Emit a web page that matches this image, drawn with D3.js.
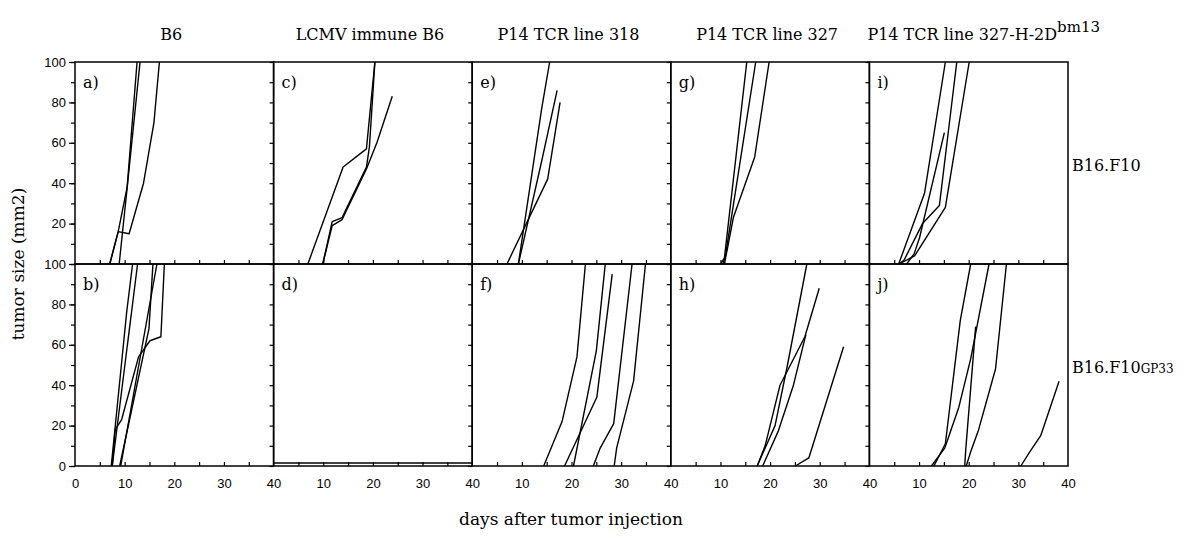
<!DOCTYPE html>
<html>
<head>
<meta charset="utf-8">
<script src="https://cdn.jsdelivr.net/npm/d3@7"></script>
<style>
  body { margin: 0; background: #fff; }
  svg { font-family: "DejaVu Serif", "Liberation Serif", serif; }
  .tick text { font-size: 13px; fill: #000; }
  .tick line { stroke: #000; stroke-width: 1.2; }
  .domain { display: none; }
  .curve { fill: none; stroke: #000; stroke-width: 1.4; stroke-linejoin: round; }
  .border { fill: none; stroke: #000; stroke-width: 1.5; }
</style>
</head>
<body>
<svg id="grafico"></svg>
<script>
// column titles (treatment of the recipients) and row labels (tumour line)
const colunas = ['B6', 'LCMV immune B6', 'P14 TCR line 318', 'P14 TCR line 327', 'P14 TCR line 327-H-2D'];
const sobrescrito = ['', '', '', '', 'bm13'];
const linhas = ['B16.F10', 'B16.F10'];
const indice = ['', 'GP33'];
const letras = [['a)', 'c)', 'e)', 'g)', 'i)'], ['b)', 'd)', 'f)', 'h)', 'j)']];

const ticksDias = [0, 10, 20, 30, 40];
const ticksTamanho = [0, 20, 40, 60, 80, 100];

// tumour growth curves, [day, size mm2]
const painelA = [
  [[7, 0], [8.7, 16], [10.5, 38], [12.5, 100]],
  [[7, 0], [8.7, 16], [10.9, 15], [13.8, 40], [15.9, 70], [17, 100]],
  [[8.9, 0], [10.6, 40], [13.1, 100]]
];
const painelB = [
  [[7.3, 0], [10.4, 76], [11.6, 100]],
  [[7.5, 0], [12.6, 100]],
  [[7.5, 0], [8.1, 18], [9.4, 23], [12.8, 54], [15.1, 62], [17.3, 64], [18, 100]],
  [[9, 0], [14.9, 68], [15.7, 100]],
  [[9.2, 0], [16.5, 100]]
];
const painelC = [
  [[6.9, 0], [14, 48], [18.7, 57], [20.4, 100]],
  [[9.9, 0], [11.8, 21], [13.8, 23], [18.7, 48], [19.3, 58], [20.4, 100]],
  [[9.9, 0], [11.8, 19], [13.8, 22], [18.7, 47], [20.8, 60], [23.9, 83]]
];
const painelD = [
  [[0, 1.5], [40, 1.5]]
];
const painelE = [
  [[7, 0], [15.2, 42], [17.7, 80]],
  [[9.3, 0], [14, 77], [15.6, 100]],
  [[9.3, 0], [14, 51], [17.1, 86]]
];
const painelF = [
  [[14.4, 0], [18.1, 22], [21.1, 54], [22.8, 100]],
  [[20.4, 0], [25, 57], [26.8, 100]],
  [[18.6, 0], [25.1, 34], [28.2, 95]],
  [[24.4, 0], [25.8, 9], [28.5, 21], [32.2, 100]],
  [[28.6, 0], [29.1, 9], [32.5, 42], [34.9, 100]]
];
const painelG = [
  [[10, 0], [10.8, 3], [15.3, 100]],
  [[10.5, 0], [11, 4], [17.1, 100]],
  [[10.8, 0], [11.2, 5], [12.6, 23], [16.9, 53], [19.8, 100]]
];
const painelH = [
  [[17.4, 0], [21, 20], [23.5, 50], [27.4, 100]],
  [[17.4, 0], [19, 10], [22, 40], [27, 64], [29.9, 88]],
  [[18.5, 0], [21.6, 17], [24.7, 40], [27.2, 65]],
  [[25.1, 0], [27.8, 4], [34.8, 59]]
];
const painelI = [
  [[5.9, 0], [11.1, 35], [15.3, 100]],
  [[7.5, 0], [9, 5], [10.1, 13], [15.1, 65]],
  [[6, 0], [9.1, 4], [15.3, 28], [20.1, 100]],
  [[6, 0], [7, 2], [10.7, 20], [14.1, 29], [17.6, 100]]
];
const painelJ = [
  [[13, 0], [15.3, 11], [18.3, 72], [20.4, 100]],
  [[12.5, 0], [15.2, 9], [18, 29], [20.4, 53], [24.1, 100]],
  [[19.2, 0], [19.4, 8], [21.4, 69]],
  [[19.5, 0], [20.4, 7], [22, 18], [25.4, 48], [27.6, 100]],
  [[30.5, 0], [32.3, 7], [34.5, 15], [38.2, 42]]
];

const paineis = [
  [painelA, painelC, painelE, painelG, painelI],
  [painelB, painelD, painelF, painelH, painelJ]
];

const largura = 1188, altura = 541;
const margem = { esquerda: 75, superior: 62 };
const larguraPainel = 198.6, alturaPainel = 202;

const svg = d3.select('#grafico').attr('width', largura).attr('height', altura);

const y = paineis.map((_, r) => d3.scaleLinear().domain([0, 100])
    .range([margem.superior + (r + 1) * alturaPainel, margem.superior + r * alturaPainel]));
const x = colunas.map((_, c) => d3.scaleLinear().domain([0, 40])
    .range([margem.esquerda + c * larguraPainel, margem.esquerda + (c + 1) * larguraPainel]));

const linha = (sx, sy) => d3.line().x(d => sx(d[0])).y(d => sy(d[1]));

paineis.forEach((fila, r) => {
  fila.forEach((dados, c) => {
    const sx = x[c], sy = y[r];
    const g = svg.append('g');

    // ticks on the y axis (outward, every 10)
    g.append('g')
        .attr('transform', `translate(${sx(0)},0)`)
        .call(d3.axisLeft(sy).tickValues(d3.range(0, 101, 10)).tickSize(4).tickFormat(''));

    // ticks on the x axis (inward, every 5 days)
    g.append('g')
        .attr('transform', `translate(0,${sy(0)})`)
        .call(d3.axisTop(sx).tickValues(d3.range(5, 40, 5)).tickSize(4).tickFormat(''));

    // y labels only on the first column
    if (c === 0) {
      g.append('g')
          .attr('transform', `translate(${sx(0)},0)`)
          .call(d3.axisLeft(sy).tickValues(r === 0 ? ticksTamanho.slice(1) : ticksTamanho)
              .tickSize(6).tickPadding(3).tickFormat(d3.format('d')));
    }

    // day labels only on the bottom row
    if (r === paineis.length - 1) {
      g.append('g')
          .attr('transform', `translate(0,${sy(0)})`)
          .call(d3.axisBottom(sx).tickValues(c === 0 ? ticksDias : ticksDias.slice(1))
              .tickSize(0).tickPadding(13).tickFormat(d3.format('d')));
    }

    g.append('rect')
        .attr('class', 'border')
        .attr('x', sx(0)).attr('y', sy(100))
        .attr('width', sx(40) - sx(0)).attr('height', sy(0) - sy(100));

    g.selectAll('.curve').data(dados).enter().append('path')
        .attr('class', 'curve')
        .attr('d', linha(sx, sy));

    g.append('text')
        .attr('x', sx(0) + 8).attr('y', sy(100) + 26)
        .attr('font-size', 16)
        .text(letras[r][c]);
  });
});

// column titles
colunas.forEach((t, c) => {
  const ultimo = c === colunas.length - 1;
  const txt = svg.append('text')
      .attr('x', ultimo ? x[c](0) - 2 : (x[c](0) + x[c](40)) / 2 - 3)
      .attr('y', 40)
      .attr('font-size', 16)
      .attr('text-anchor', ultimo ? 'start' : 'middle')
      .text(t);
  if (sobrescrito[c]) {
    txt.append('tspan').attr('dy', -8).attr('font-size', 15).text(sobrescrito[c]);
  }
});

// row labels on the right
linhas.forEach((t, r) => {
  const txt = svg.append('text')
      .attr('x', x[colunas.length - 1](40) + 4)
      .attr('y', (y[r](0) + y[r](100)) / 2 + 8)
      .attr('font-size', 16)
      .text(t);
  if (indice[r]) txt.append('tspan').attr('font-size', 12).text(indice[r]);
});

// axis titles
svg.append('text')
    .attr('transform', `translate(24, ${margem.superior + alturaPainel}) rotate(-90)`)
    .attr('text-anchor', 'middle')
    .attr('font-size', 17)
    .text('tumor size (mm2)');

svg.append('text')
    .attr('x', 571).attr('y', 525)
    .attr('text-anchor', 'middle')
    .attr('font-size', 17)
    .text('days after tumor injection');
</script>
</body>
</html>
